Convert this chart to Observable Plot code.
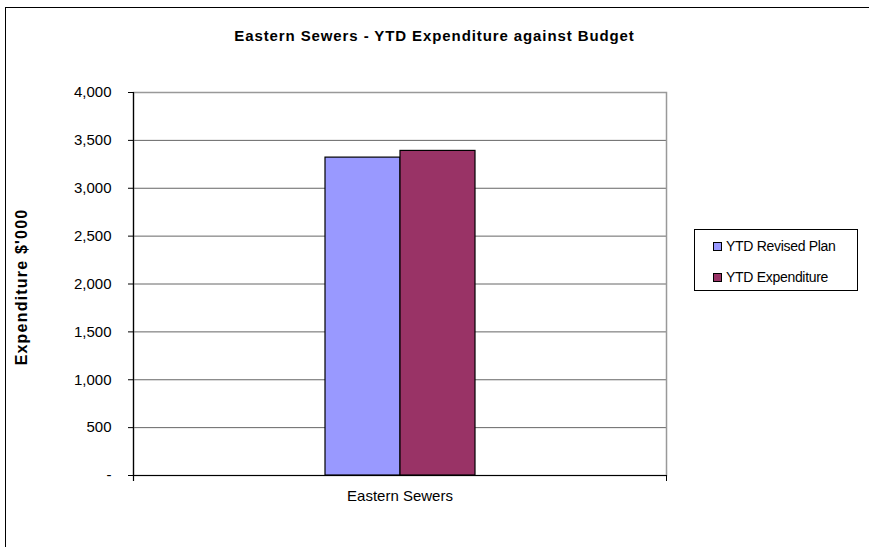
<!DOCTYPE html>
<html>
<head>
<meta charset="utf-8">
<script src="https://cdn.jsdelivr.net/npm/d3@7"></script>
<script src="https://cdn.jsdelivr.net/npm/@observablehq/plot@0.6"></script>
<style>
  html, body { margin: 0; padding: 0; background: #fff; }
  #wrap { position: relative; width: 869px; height: 547px; overflow: hidden; font-family: "Liberation Sans", Arial, sans-serif; }
  #border { position: absolute; left: 5px; top: 7px; right: -2px; bottom: -2px; border-top: 1px solid #000; border-left: 1px solid #000; }
  #chart { position: absolute; left: 0; top: 0; }
  #title { position: absolute; left: 0; width: 869px; top: 27px; text-align: center; font-weight: bold; font-size: 15px; letter-spacing: 0.9px; color: #000; padding-left: 0; }
  #ytitle { position: absolute; left: 22px; top: 287px; transform: translate(-50%, -50%) rotate(-90deg); white-space: nowrap; font-weight: bold; font-size: 16px; letter-spacing: 1.2px; color: #000; }
  #legend { position: absolute; left: 694px; top: 229px; width: 164px; height: 62px; border: 1px solid #000; box-sizing: border-box; background: #fff; }
  .item { position: absolute; left: 18px; display: flex; align-items: center; font-size: 14px; white-space: nowrap; letter-spacing: -0.3px; }
  .sw { width: 7px; height: 7px; border: 1px solid #000; margin-right: 4px; }
</style>
</head>
<body>
<div id="wrap">
  <div id="border"></div>
  <div id="chart"></div>
  <div id="title"></div>
  <div id="ytitle"></div>
  <div id="legend"></div>
</div>
<script>
const chartTitle = "Eastern Sewers - YTD Expenditure against Budget";
const yAxisTitle = "Expenditure $'000";
const categories = ["Eastern Sewers"];
const seriesNames = ["YTD Revised Plan", "YTD Expenditure"];
const seriesValues = [3320, 3390];
const seriesColors = ["#9999FF", "#993366"];
const yTicks = [0, 500, 1000, 1500, 2000, 2500, 3000, 3500, 4000];

const data = seriesNames.map((s, i) => ({category: categories[0], series: s, value: seriesValues[i]}));
const fmt = d3.format(",");

const chart = Plot.plot({
  width: 869,
  height: 547,
  marginLeft: 133,
  marginRight: 203,
  marginTop: 92,
  marginBottom: 72,
  style: {fontFamily: "'Liberation Sans', Arial, sans-serif", background: "transparent"},
  x: {domain: seriesNames, paddingInner: 0, paddingOuter: 2.53, axis: null},
  y: {domain: [0, 4000], axis: null},
  color: {domain: seriesNames, range: seriesColors},
  marks: [
    Plot.gridY(yTicks, {stroke: "#666", strokeOpacity: 1}),
    Plot.frame({stroke: "#999", strokeWidth: 1.5}),
    Plot.barY(data, {x: "series", y: "value", fill: "series", stroke: "#000", strokeWidth: 1.2}),
    Plot.ruleY([0], {stroke: "#000", strokeWidth: 1.2}),
    Plot.frame({anchor: "left", stroke: "#000", strokeWidth: 1.2, insetBottom: -5}),
    Plot.frame({anchor: "right", stroke: "#000", strokeWidth: 1, insetTop: 383, insetBottom: -5}),
    Plot.axisY(yTicks, {tickSize: 5, tickPadding: 17, fontSize: 15, stroke: "#000", tickFormat: d => d === 0 ? "-" : fmt(d), label: null}),
    Plot.text(categories, {frameAnchor: "bottom", dy: 25, text: d => d, fontSize: 15, fill: "#000"})
  ]
});
document.getElementById("chart").appendChild(chart);
document.getElementById("title").textContent = chartTitle;
document.getElementById("ytitle").textContent = yAxisTitle;

const legend = document.getElementById("legend");
seriesNames.forEach((s, i) => {
  const it = document.createElement("div");
  it.className = "item";
  it.style.top = (i === 0 ? 8 : 39) + "px";
  const sw = document.createElement("div");
  sw.className = "sw";
  sw.style.background = seriesColors[i];
  const tx = document.createElement("span");
  tx.textContent = s;
  it.appendChild(sw);
  it.appendChild(tx);
  legend.appendChild(it);
});
</script>
</body>
</html>
